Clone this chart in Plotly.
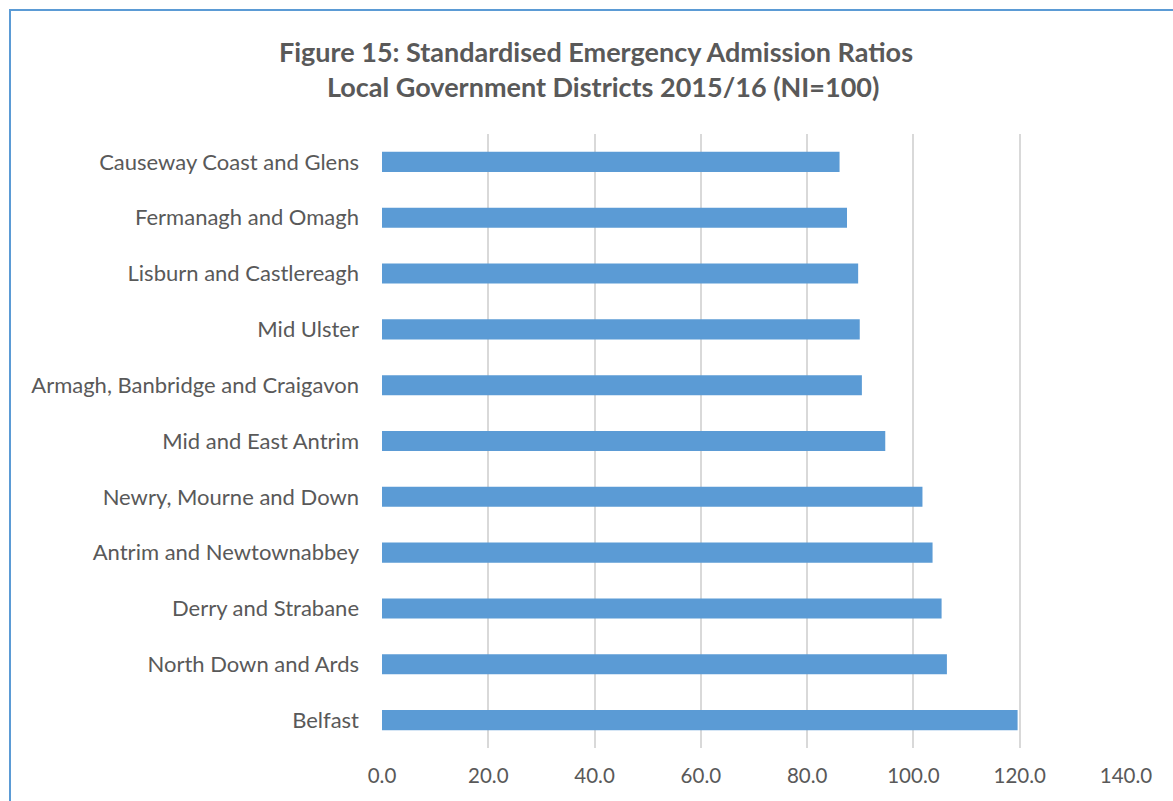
import plotly.graph_objects as go

# Local Government Districts, listed top to bottom
districts = [
    "Causeway Coast and Glens",
    "Fermanagh and Omagh",
    "Lisburn and Castlereagh",
    "Mid Ulster",
    "Armagh, Banbridge and Craigavon",
    "Mid and East Antrim",
    "Newry, Mourne and Down",
    "Antrim and Newtownabbey",
    "Derry and Strabane",
    "North Down and Ards",
    "Belfast",
]
# Standardised emergency admission ratios (NI = 100)
ratios = [86.1, 87.5, 89.6, 89.9, 90.3, 94.7, 101.7, 103.6, 105.3, 106.3, 119.6]
tick_values = [0, 20, 40, 60, 80, 100, 120, 140]
tick_labels = ["0.0", "20.0", "40.0", "60.0", "80.0", "100.0", "120.0", "140.0"]

BAR = "#5B9BD5"
TEXT = "#595959"
GRID = "#D9D9D9"
FONT = "Lato, Carlito, Calibri, sans-serif"

W, H = 1173, 801
L, R, T, B = 382, 47, 134, 53
pw, ph = W - L - R, H - T - B


def px_x(p):
    return (p - L) / pw


def px_y(p):
    return (H - B - p) / ph


fig = go.Figure(
    go.Bar(
        x=ratios,
        y=districts,
        orientation="h",
        marker=dict(color=BAR, line=dict(width=0)),
        hoverinfo="x+y",
    )
)

fig.update_layout(
    width=W,
    height=H,
    margin=dict(l=L, r=R, t=T, b=B),
    paper_bgcolor="white",
    plot_bgcolor="white",
    bargap=0.64,
    showlegend=False,
    font=dict(family=FONT, color=TEXT, size=21),
)

fig.update_xaxes(
    range=[0, 140],
    tickvals=tick_values,
    ticktext=tick_labels,
    showgrid=True,
    gridcolor=GRID,
    gridwidth=1.5,
    zeroline=False,
    showline=False,
    ticks="",
    ticklabelstandoff=13,
    tickfont=dict(size=20.5, color=TEXT, family=FONT),
)
fig.update_yaxes(
    autorange="reversed",
    showgrid=False,
    zeroline=False,
    showline=False,
    ticks="",
    ticklabelstandoff=22,
    tickfont=dict(size=22, color=TEXT, family=FONT),
)

# Chart title, two centred bold lines
fig.add_annotation(
    text="<b>Figure 15: Standardised Emergency Admission Ratios</b>",
    xref="paper", yref="paper",
    x=px_x(596), y=px_y(52),
    xanchor="center", yanchor="middle",
    showarrow=False,
    font=dict(size=27, color=TEXT, family=FONT),
)
fig.add_annotation(
    text="<b>Local Government Districts 2015/16 (NI=100)</b>",
    xref="paper", yref="paper",
    x=px_x(603), y=px_y(87),
    xanchor="center", yanchor="middle",
    showarrow=False,
    font=dict(size=27, color=TEXT, family=FONT),
)

# Blue chart-area frame
fig.add_shape(
    type="rect",
    xref="paper", yref="paper",
    x0=px_x(10), x1=px_x(1190),
    y0=px_y(820), y1=px_y(10),
    line=dict(color=BAR, width=2),
    fillcolor="rgba(0,0,0,0)",
    layer="above",
)

fig.write_html("out.html")
